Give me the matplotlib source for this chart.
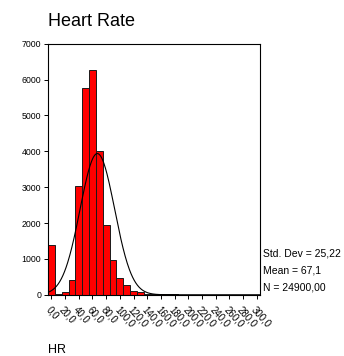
import matplotlib
matplotlib.use('Agg')
import matplotlib.pyplot as plt
import numpy as np

plt.rcParams['font.family'] = ['Liberation Sans', 'DejaVu Sans']

# Bin centres (width 10) and counts
bin_centres = list(range(0, 310, 10))
counts = [1400, 10, 70, 400, 3030, 5780, 6270, 4020, 1950, 970,
          465, 270, 115, 70, 35, 25, 20, 12, 8, 6,
          5, 4, 3, 3, 2, 2, 2, 2, 2, 2, 2]
x_ticks = list(range(0, 320, 20))
x_tick_labels = ['%d,0' % t for t in x_ticks]
y_ticks = list(range(0, 8000, 1000))

std_dev = 25.22
mean = 67.1
n_total = 24900
bin_width = 10

fig = plt.figure(figsize=(3.44, 3.56), dpi=100)
ax = fig.add_axes([0.1395, 0.172, 0.617, 0.705])

ax.bar(bin_centres, counts, width=bin_width, color='#ff0000',
       edgecolor='#1a1a1a', linewidth=0.7)

# normal curve
xs = np.linspace(-5, 305, 400)
ys = n_total * bin_width / (std_dev * np.sqrt(2 * np.pi)) * np.exp(-0.5 * ((xs - mean) / std_dev) ** 2)
ax.plot(xs, ys, color='black', lw=0.8)

ax.set_xlim(-5, 305)
ax.set_ylim(0, 7000)
ax.set_yticks(y_ticks)
ax.set_yticklabels([str(t) for t in y_ticks], fontsize=6.3)
ax.set_xticks(x_ticks)
ax.set_xticklabels(x_tick_labels, fontsize=7, rotation=-48,
                   ha='left', va='top', rotation_mode='anchor')
ax.tick_params(axis='y', length=3, width=0.7, pad=2, colors='black')
ax.tick_params(axis='x', length=3, width=0.7, pad=4, colors='black')
for s in ax.spines.values():
    s.set_linewidth(0.8)

fig.text(0.1395, 0.94, 'Heart Rate', fontsize=13, ha='left', va='center')
fig.text(0.765, 0.289, 'Std. Dev = 25,22', fontsize=7.5, ha='left', va='center')
fig.text(0.765, 0.241, 'Mean = 67,1', fontsize=7.5, ha='left', va='center')
fig.text(0.765, 0.193, 'N = 24900,00', fontsize=7.5, ha='left', va='center')
fig.text(0.1395, 0.016, 'HR', fontsize=9, ha='left', va='center')

fig.savefig('out.png', dpi=100)
